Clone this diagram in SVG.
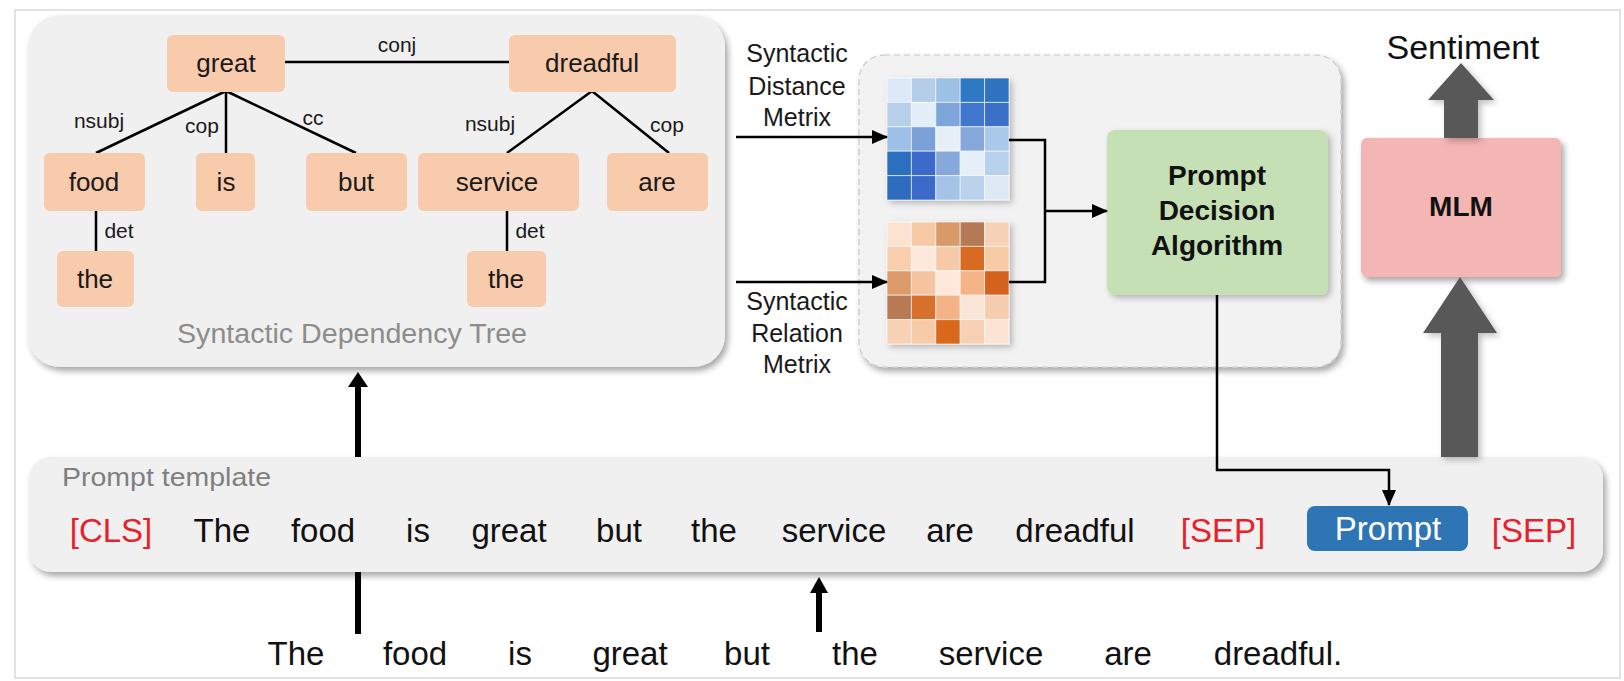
<svg xmlns="http://www.w3.org/2000/svg" width="1624" height="681" viewBox="0 0 1624 681">
  <style>
    text { font-family: "Liberation Sans", Arial, sans-serif; }
    .panel { fill: #f0f0f0; }
    .node { fill: #f8cbad; }
    .nlabel { font-size: 26px; fill: #1a1a1a; text-anchor: middle; }
    .elabel { font-size: 21px; fill: #1a1a1a; text-anchor: middle; }
    .edge { stroke: #000; stroke-width: 2.5; fill: none; }
    .thin { stroke: #000; stroke-width: 2.5; fill: none; }
    .thick { stroke: #000; stroke-width: 6; fill: none; }
    .mlabel { font-size: 25px; fill: #1a1a1a; text-anchor: middle; }
    .word { font-size: 33px; fill: #111; text-anchor: middle; }
    .tok { font-size: 33px; fill: #e8202a; text-anchor: middle; }
    .bold { font-weight: bold; fill: #111; text-anchor: middle; }
    .bigarrow { fill: #595959; }
  </style>
  <defs>
    <filter id="shadow" x="-10%" y="-10%" width="125%" height="130%">
      <feDropShadow dx="3" dy="4" stdDeviation="3" flood-color="#000" flood-opacity="0.35"/>
    </filter>
    <filter id="softshadow" x="-10%" y="-10%" width="130%" height="130%">
      <feDropShadow dx="3" dy="3" stdDeviation="3" flood-color="#000" flood-opacity="0.25"/>
    </filter>
    <marker id="arr" viewBox="0 0 16 14" refX="15" refY="7" markerWidth="16" markerHeight="14" markerUnits="userSpaceOnUse" orient="auto">
      <path d="M0,0 L16,7 L0,14 z" fill="#000"/>
    </marker>
  </defs>

  <!-- outer frame -->
  <rect x="15" y="10" width="1605" height="668" fill="#fff" stroke="#d9d9d9" stroke-width="1.5"/>

  <!-- dependency tree panel -->
  <g id="tree-panel">
    <rect class="panel" x="28" y="15" width="697" height="352" rx="32" filter="url(#shadow)"/>
    <text x="352" y="343" font-size="27" fill="#8c8c8c" text-anchor="middle" textLength="350" lengthAdjust="spacingAndGlyphs">Syntactic Dependency Tree</text>
  </g>

  <!-- tree edges -->
  <g id="tree-edges">
    <line class="edge" x1="285" y1="62" x2="509" y2="62"/>
    <line class="edge" x1="226" y1="91" x2="96" y2="153"/>
    <line class="edge" x1="226" y1="91" x2="226" y2="153"/>
    <line class="edge" x1="226" y1="91" x2="356" y2="153"/>
    <line class="edge" x1="592" y1="91" x2="507" y2="153"/>
    <line class="edge" x1="592" y1="91" x2="669" y2="153"/>
    <line class="edge" x1="96" y1="211" x2="96" y2="251"/>
    <line class="edge" x1="507" y1="211" x2="507" y2="251"/>
    <text class="elabel" x="397" y="52">conj</text>
    <text class="elabel" x="99" y="128">nsubj</text>
    <text class="elabel" x="202" y="133">cop</text>
    <text class="elabel" x="313" y="125">cc</text>
    <text class="elabel" x="490" y="131">nsubj</text>
    <text class="elabel" x="667" y="132">cop</text>
    <text class="elabel" x="119" y="238">det</text>
    <text class="elabel" x="530" y="238">det</text>
  </g>

  <g id="node-great"><rect class="node" x="167" y="35" width="118" height="57" rx="6"/><text class="nlabel" x="226" y="72">great</text></g>
  <g id="node-dreadful"><rect class="node" x="509" y="35" width="167" height="57" rx="6"/><text class="nlabel" x="592" y="72">dreadful</text></g>
  <g id="node-food"><rect class="node" x="44" y="153" width="101" height="58" rx="6"/><text class="nlabel" x="94" y="191">food</text></g>
  <g id="node-is"><rect class="node" x="196" y="153" width="59" height="58" rx="6"/><text class="nlabel" x="226" y="191">is</text></g>
  <g id="node-but"><rect class="node" x="306" y="153" width="101" height="58" rx="6"/><text class="nlabel" x="356" y="191">but</text></g>
  <g id="node-service"><rect class="node" x="418" y="153" width="161" height="58" rx="6"/><text class="nlabel" x="497" y="191">service</text></g>
  <g id="node-are"><rect class="node" x="607" y="153" width="101" height="58" rx="6"/><text class="nlabel" x="657" y="191">are</text></g>
  <g id="node-the1"><rect class="node" x="57" y="251" width="77" height="56" rx="6"/><text class="nlabel" x="95" y="288">the</text></g>
  <g id="node-the2"><rect class="node" x="467" y="251" width="79" height="56" rx="6"/><text class="nlabel" x="506" y="288">the</text></g>

  <!-- matrix panel -->
  <g id="matrix-panel">
    <rect x="859" y="55" width="482" height="312" rx="25" fill="#f2f2f2" stroke="#c8c8c8" stroke-width="1.2" stroke-dasharray="6,4" filter="url(#shadow)"/>
  </g>

  <g id="distance-matrix" filter="url(#softshadow)">
    <g stroke="#fff" stroke-width="1" stroke-opacity="0.6">
      <rect x="887" y="78" width="24.4" height="24.4" fill="#dde9f7"/>
      <rect x="911.4" y="78" width="24.4" height="24.4" fill="#b4cde9"/>
      <rect x="935.8" y="78" width="24.4" height="24.4" fill="#9dc0e5"/>
      <rect x="960.2" y="78" width="24.4" height="24.4" fill="#2f78c4"/>
      <rect x="984.6" y="78" width="24.4" height="24.4" fill="#2e72c0"/>
      <rect x="887" y="102.4" width="24.4" height="24.4" fill="#b7cfea"/>
      <rect x="911.4" y="102.4" width="24.4" height="24.4" fill="#e3eef9"/>
      <rect x="935.8" y="102.4" width="24.4" height="24.4" fill="#7fa6da"/>
      <rect x="960.2" y="102.4" width="24.4" height="24.4" fill="#3f77cf"/>
      <rect x="984.6" y="102.4" width="24.4" height="24.4" fill="#3b6fc8"/>
      <rect x="887" y="126.8" width="24.4" height="24.4" fill="#9fc0e6"/>
      <rect x="911.4" y="126.8" width="24.4" height="24.4" fill="#7ba1d8"/>
      <rect x="935.8" y="126.8" width="24.4" height="24.4" fill="#e6eef8"/>
      <rect x="960.2" y="126.8" width="24.4" height="24.4" fill="#86a8da"/>
      <rect x="984.6" y="126.8" width="24.4" height="24.4" fill="#a9c8ea"/>
      <rect x="887" y="151.2" width="24.4" height="24.4" fill="#2c6fbf"/>
      <rect x="911.4" y="151.2" width="24.4" height="24.4" fill="#3a6acb"/>
      <rect x="935.8" y="151.2" width="24.4" height="24.4" fill="#86a8db"/>
      <rect x="960.2" y="151.2" width="24.4" height="24.4" fill="#e6eef8"/>
      <rect x="984.6" y="151.2" width="24.4" height="24.4" fill="#b8d1ec"/>
      <rect x="887" y="175.6" width="24.4" height="24.4" fill="#2d6cbf"/>
      <rect x="911.4" y="175.6" width="24.4" height="24.4" fill="#3a6ac9"/>
      <rect x="935.8" y="175.6" width="24.4" height="24.4" fill="#a4c3e8"/>
      <rect x="960.2" y="175.6" width="24.4" height="24.4" fill="#bad2ec"/>
      <rect x="984.6" y="175.6" width="24.4" height="24.4" fill="#dfe9f6"/>
    </g>
  </g>

  <g id="relation-matrix" filter="url(#softshadow)">
    <g stroke="#fff" stroke-width="1" stroke-opacity="0.6">
      <rect x="887" y="222" width="24.4" height="24.4" fill="#fbe3d2"/>
      <rect x="911.4" y="222" width="24.4" height="24.4" fill="#f8c9a5"/>
      <rect x="935.8" y="222" width="24.4" height="24.4" fill="#d99a6a"/>
      <rect x="960.2" y="222" width="24.4" height="24.4" fill="#b57a55"/>
      <rect x="984.6" y="222" width="24.4" height="24.4" fill="#f8d2b6"/>
      <rect x="887" y="246.4" width="24.4" height="24.4" fill="#f9cfae"/>
      <rect x="911.4" y="246.4" width="24.4" height="24.4" fill="#fce9dc"/>
      <rect x="935.8" y="246.4" width="24.4" height="24.4" fill="#f6c9a8"/>
      <rect x="960.2" y="246.4" width="24.4" height="24.4" fill="#d86a24"/>
      <rect x="984.6" y="246.4" width="24.4" height="24.4" fill="#f8caa6"/>
      <rect x="887" y="270.8" width="24.4" height="24.4" fill="#dd9b6c"/>
      <rect x="911.4" y="270.8" width="24.4" height="24.4" fill="#f6c4a0"/>
      <rect x="935.8" y="270.8" width="24.4" height="24.4" fill="#fde8da"/>
      <rect x="960.2" y="270.8" width="24.4" height="24.4" fill="#f4b488"/>
      <rect x="984.6" y="270.8" width="24.4" height="24.4" fill="#d4621d"/>
      <rect x="887" y="295.2" width="24.4" height="24.4" fill="#b87a55"/>
      <rect x="911.4" y="295.2" width="24.4" height="24.4" fill="#d7702c"/>
      <rect x="935.8" y="295.2" width="24.4" height="24.4" fill="#f4b387"/>
      <rect x="960.2" y="295.2" width="24.4" height="24.4" fill="#fbe5d6"/>
      <rect x="984.6" y="295.2" width="24.4" height="24.4" fill="#f7cdb0"/>
      <rect x="887" y="319.6" width="24.4" height="24.4" fill="#f8d2b6"/>
      <rect x="911.4" y="319.6" width="24.4" height="24.4" fill="#f7cba9"/>
      <rect x="935.8" y="319.6" width="24.4" height="24.4" fill="#d8671f"/>
      <rect x="960.2" y="319.6" width="24.4" height="24.4" fill="#f8d0b3"/>
      <rect x="984.6" y="319.6" width="24.4" height="24.4" fill="#fbe4d4"/>
    </g>
  </g>

  <g id="prompt-decision">
    <rect x="1107" y="130" width="221" height="165" rx="8" fill="#c5e0b4" filter="url(#softshadow)"/>
    <text class="bold" x="1217" y="185" font-size="28">Prompt</text>
    <text class="bold" x="1217" y="220" font-size="28">Decision</text>
    <text class="bold" x="1217" y="255" font-size="28">Algorithm</text>
  </g>

  <g id="mlm">
    <rect x="1361" y="138" width="200" height="139" rx="6" fill="#f4b6b4" filter="url(#shadow)"/>
    <text class="bold" x="1461" y="216" font-size="28">MLM</text>
  </g>

  <g id="sentiment">
    <text x="1463" y="59" font-size="34" fill="#111" text-anchor="middle">Sentiment</text>
  </g>

  <!-- prompt template panel -->
  <g id="template">
    <rect class="panel" x="29" y="457" width="1574" height="115" rx="22" filter="url(#shadow)"/>
    <text x="62" y="486" font-size="26" fill="#7f7f7f" textLength="209" lengthAdjust="spacingAndGlyphs">Prompt template</text>
    <text class="tok" x="111" y="542">[CLS]</text>
    <text class="word" x="222" y="542">The</text>
    <text class="word" x="323" y="542">food</text>
    <text class="word" x="418" y="542">is</text>
    <text class="word" x="509" y="542">great</text>
    <text class="word" x="619" y="542">but</text>
    <text class="word" x="714" y="542">the</text>
    <text class="word" x="834" y="542">service</text>
    <text class="word" x="950" y="542">are</text>
    <text class="word" x="1075" y="542">dreadful</text>
    <text class="tok" x="1223" y="542">[SEP]</text>
    <text class="tok" x="1534" y="542">[SEP]</text>
  </g>

  <g id="prompt-slot">
    <rect x="1307" y="506" width="161" height="45" rx="8" fill="#2e75b6"/>
    <text x="1388" y="540" font-size="33" fill="#fff" text-anchor="middle">Prompt</text>
  </g>

  <!-- input sentence -->
  <g id="sentence">
    <text class="word" x="296" y="665">The</text>
    <text class="word" x="415" y="665">food</text>
    <text class="word" x="520" y="665">is</text>
    <text class="word" x="630" y="665">great</text>
    <text class="word" x="747" y="665">but</text>
    <text class="word" x="855" y="665">the</text>
    <text class="word" x="991" y="665">service</text>
    <text class="word" x="1128" y="665">are</text>
    <text class="word" x="1278" y="665">dreadful.</text>
  </g>

  <!-- connectors -->
  <g id="connectors">
    <line class="thin" x1="736" y1="137" x2="887" y2="137" marker-end="url(#arr)"/>
    <line class="thin" x1="736" y1="282" x2="887" y2="282" marker-end="url(#arr)"/>
    <text class="mlabel" x="797" y="62">Syntactic</text>
    <text class="mlabel" x="797" y="95">Distance</text>
    <text class="mlabel" x="797" y="126">Metrix</text>
    <text class="mlabel" x="797" y="310">Syntactic</text>
    <text class="mlabel" x="797" y="342">Relation</text>
    <text class="mlabel" x="797" y="373">Metrix</text>

    <path class="thin" d="M1009,140 H1045 V282 H1009"/>
    <line class="thin" x1="1045" y1="211" x2="1107" y2="211" marker-end="url(#arr)"/>

    <path class="thin" d="M1217,295 V470 H1389 V505" marker-end="url(#arr)"/>

    <line class="thick" x1="358" y1="634" x2="358" y2="572"/>
    <line class="thick" x1="358" y1="457" x2="358" y2="384"/>
    <polygon points="348,387 368,387 358,372" fill="#000"/>

    <line class="thick" x1="819" y1="632" x2="819" y2="590"/>
    <polygon points="810,593 828,593 819,577" fill="#000"/>

    <polygon class="bigarrow" filter="url(#softshadow)" points="1444,138 1478,138 1478,100 1494,100 1461,63 1428,100 1444,100"/>
    <polygon class="bigarrow" filter="url(#softshadow)" points="1441,457 1478,457 1478,333 1497,333 1460,277 1423,333 1441,333"/>
  </g>
</svg>
